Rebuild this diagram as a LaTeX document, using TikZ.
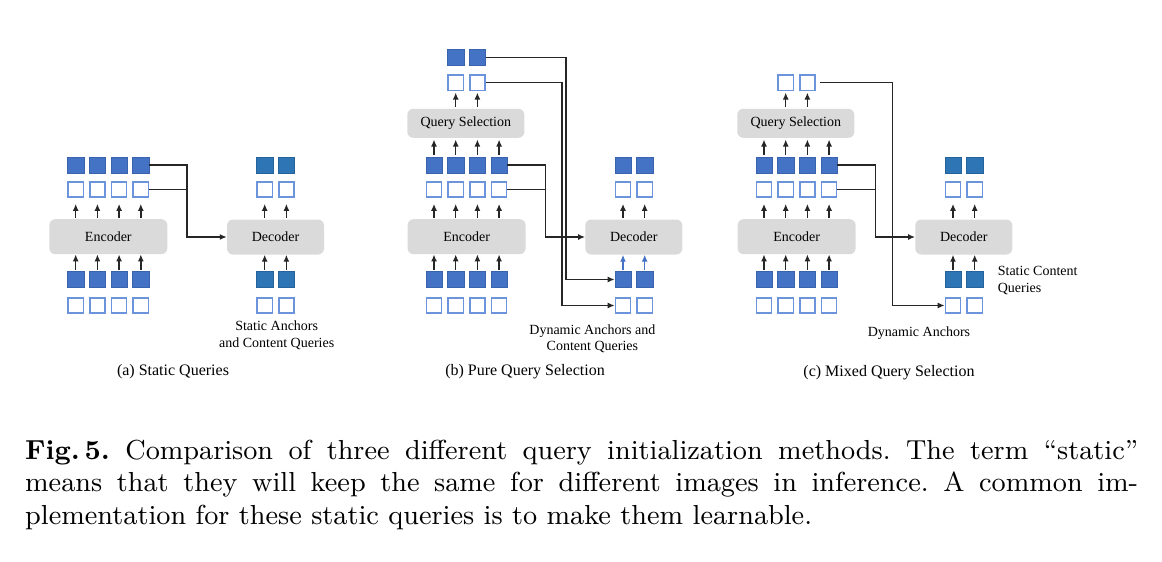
\documentclass[tikz,border=0pt]{standalone}
\usepackage{fontspec}
\newfontfamily\figfont{Liberation Serif}
\newfontfamily\capfont{lmroman9-regular.otf}[BoldFont=lmroman9-bold.otf]
\usetikzlibrary{arrows.meta,positioning,calc}
\definecolor{qblue}{HTML}{4472C4}
\definecolor{qedge}{HTML}{3A63AE}
\definecolor{sblue}{HTML}{2E75B6}
\definecolor{qline}{HTML}{6B94DC}
\definecolor{boxgray}{HTML}{DADADA}
\definecolor{wire}{HTML}{262626}
\tikzset{
  qfull/.style={rectangle,fill=qblue,draw=qedge,line width=0.5pt,minimum size=16.2pt,inner sep=0pt},
  qstat/.style={qfull,fill=sblue,draw=sblue!85!black},
  qempty/.style={rectangle,fill=white,draw=qline,line width=1.5pt,minimum size=15.2pt,inner sep=0pt},
  blk/.style={fill=boxgray,rounded corners=6pt,minimum height=35pt,inner sep=0pt,
    font=\figfont\fontsize{14}{16}\selectfont},
  arr/.style={-{Latex[length=7pt,width=6pt]},line width=1.5pt,draw=wire},
  uparr/.style={arr,shorten <=1.5pt},
  lnk/.style={line width=1.5pt,draw=wire},
  lbl/.style={font=\figfont\fontsize{14}{16.5}\selectfont,align=center},
  subcap/.style={font=\figfont\fontsize{16}{19}\selectfont},
  captext/.style={anchor=base west,inner sep=0pt,font=\capfont\fontsize{27.5}{32.5}\selectfont\frenchspacing},
}
\begin{document}
\begin{tikzpicture}[x=1pt,y=-1pt]
  \useasboundingbox (0,0) rectangle (1162,562);
  % (a) static queries
  \begin{scope}
    \node[blk,minimum width=118pt] (aenc) at (108.3,236.7) {Encoder};
    \node[blk,minimum width=97pt] (adec) at (275.5,237) {Decoder};
    \foreach \k in {1,...,4}{
      \node[qfull] (ain\k) at (54+21.7*\k,279.5) {};
      \node[qempty] (apos\k) at (54+21.7*\k,305.5) {};
      \node[qempty] (aoe\k) at (54+21.7*\k,189.5) {};
      \node[qfull] (aof\k) at (54+21.7*\k,165) {};
      \draw[uparr] (ain\k) -- (ain\k |- aenc.south);
      \draw[uparr,shorten >=6pt] (aenc.north -| aoe\k) -- (aoe\k);
    }
    \foreach \j in {1,2}{
      \node[qstat] (adin\j) at (243+21.7*\j,279.5) {};
      \node[qempty] (adpos\j) at (243+21.7*\j,305.5) {};
      \node[qempty] (adoe\j) at (243+21.7*\j,189.5) {};
      \node[qstat] (adof\j) at (243+21.7*\j,165) {};
      \draw[uparr] (adin\j) -- (adin\j |- adec.south);
      \draw[uparr,shorten >=6pt] (adec.north -| adoe\j) -- (adoe\j);
    }
    \draw[arr] (aof4.east) -- ++(38,0) |- (adec.west);
    \draw[lnk] (aoe4.east) -- ++(38,0);
    \node[lbl] (alab) at (276.7,335.5) {Static Anchors\\and Content Queries};
    \node[subcap] (asub) at (173,371.7) {(a) Static Queries};
  \end{scope}
  % (b) pure query selection
  \begin{scope}[xshift=358.3pt]
    \node[blk,minimum width=118pt] (benc) at (108.3,236.7) {Encoder};
    \node[blk,minimum width=97pt] (bdec) at (275.5,237) {Decoder};
    \node[blk,minimum width=117pt,minimum height=29pt] (bqs) at (107.5,123.3) {Query Selection};
    \foreach \k in {1,...,4}{
      \node[qfull] (bin\k) at (54+21.7*\k,279.5) {};
      \node[qempty] (bpos\k) at (54+21.7*\k,305.5) {};
      \node[qempty] (boe\k) at (54+21.7*\k,189.5) {};
      \node[qfull] (bof\k) at (54+21.7*\k,165) {};
      \draw[uparr] (bin\k) -- (bin\k |- benc.south);
      \draw[uparr,shorten >=6pt] (benc.north -| boe\k) -- (boe\k);
      \draw[uparr,shorten >=1.5pt] (bof\k) -- (bof\k |- bqs.south);
    }
    \foreach \k in {2,3}{
      \node[qempty] (bqe\k) at (54+21.7*\k,82.7) {};
      \node[qfull] (bqf\k) at (54+21.7*\k,57.5) {};
      \draw[uparr,shorten >=1.5pt] (bqs.north -| bqe\k) -- (bqe\k);
    }
    \foreach \j in {1,2}{
      \node[qfull] (bdin\j) at (243+21.7*\j,279.5) {};
      \node[qempty] (bdpos\j) at (243+21.7*\j,305.5) {};
      \node[qempty] (bdoe\j) at (243+21.7*\j,189.5) {};
      \node[qfull] (bdof\j) at (243+21.7*\j,165) {};
      \draw[uparr,draw=qblue] (bdin\j) -- (bdin\j |- bdec.south);
      \draw[uparr,shorten >=6pt] (bdec.north -| bdoe\j) -- (bdoe\j);
    }
    \draw[arr] (bof4.east) -- ++(38,0) |- (bdec.west);
    \draw[lnk] (boe4.east) -- ++(38,0);
    \draw[arr] (bqf3.east) -- ++(80,0) |- (bdin1.west);
    \draw[arr] (bqe3.east) -- ++(76,0) |- (bdpos1.west);
    \node[lbl] (blab) at (234.1,338.7) {Dynamic Anchors and\\Content Queries};
    \node[subcap] (bsub) at (166.7,371.7) {(b) Pure Query Selection};
  \end{scope}
  % (c) mixed query selection
  \begin{scope}[xshift=688.3pt]
    \node[blk,minimum width=118pt] (cenc) at (108.3,236.7) {Encoder};
    \node[blk,minimum width=97pt] (cdec) at (275.5,237) {Decoder};
    \node[blk,minimum width=117pt,minimum height=29pt] (cqs) at (107.5,123.3) {Query Selection};
    \foreach \k in {1,...,4}{
      \node[qfull] (cin\k) at (54+21.7*\k,279.5) {};
      \node[qempty] (cpos\k) at (54+21.7*\k,305.5) {};
      \node[qempty] (coe\k) at (54+21.7*\k,189.5) {};
      \node[qfull] (cof\k) at (54+21.7*\k,165) {};
      \draw[uparr] (cin\k) -- (cin\k |- cenc.south);
      \draw[uparr,shorten >=6pt] (cenc.north -| coe\k) -- (coe\k);
      \draw[uparr,shorten >=1.5pt] (cof\k) -- (cof\k |- cqs.south);
    }
    \foreach \k in {2,3}{
      \node[qempty] (cqe\k) at (54+21.7*\k,82.7) {};
      \draw[uparr,shorten >=1.5pt] (cqs.north -| cqe\k) -- (cqe\k);
    }
    \foreach \j in {1,2}{
      \node[qstat] (cdin\j) at (243+21.7*\j,279.5) {};
      \node[qempty] (cdpos\j) at (243+21.7*\j,305.5) {};
      \node[qempty] (cdoe\j) at (243+21.7*\j,189.5) {};
      \node[qstat] (cdof\j) at (243+21.7*\j,165) {};
      \draw[uparr] (cdin\j) -- (cdin\j |- cdec.south);
      \draw[uparr,shorten >=6pt] (cdec.north -| cdoe\j) -- (cdoe\j);
    }
    \draw[arr] (cof4.east) -- ++(38,0) |- (cdec.west);
    \draw[lnk] (coe4.east) -- ++(38,0);
    \draw[arr,shorten <=4pt] (cqe3.east) -- ++(76.5,0) |- (cdpos1.west);
    \node[lbl,align=left,anchor=west] (clab) at (306,280.5) {Static Content\\Queries};
    \node[lbl] (cdyn) at (230.7,332.7) {Dynamic Anchors};
    \node[subcap] (csub) at (200.7,372.3) {(c) Mixed Query Selection};
  \end{scope}
  % caption
  \node[captext] (cap1) at (25,459) {\makebox[1113pt][s]{\textbf{Fig.\,5.} Comparison of three different query initialization methods. The term “static”}};
  \node[captext] (cap2) at (25,491.5) {\makebox[1113pt][s]{means that they will keep the same for different images in inference. A common im-}};
  \node[captext] (cap3) at (25,524) {plementation for these static queries is to make them learnable.};
\end{tikzpicture}
\end{document}
